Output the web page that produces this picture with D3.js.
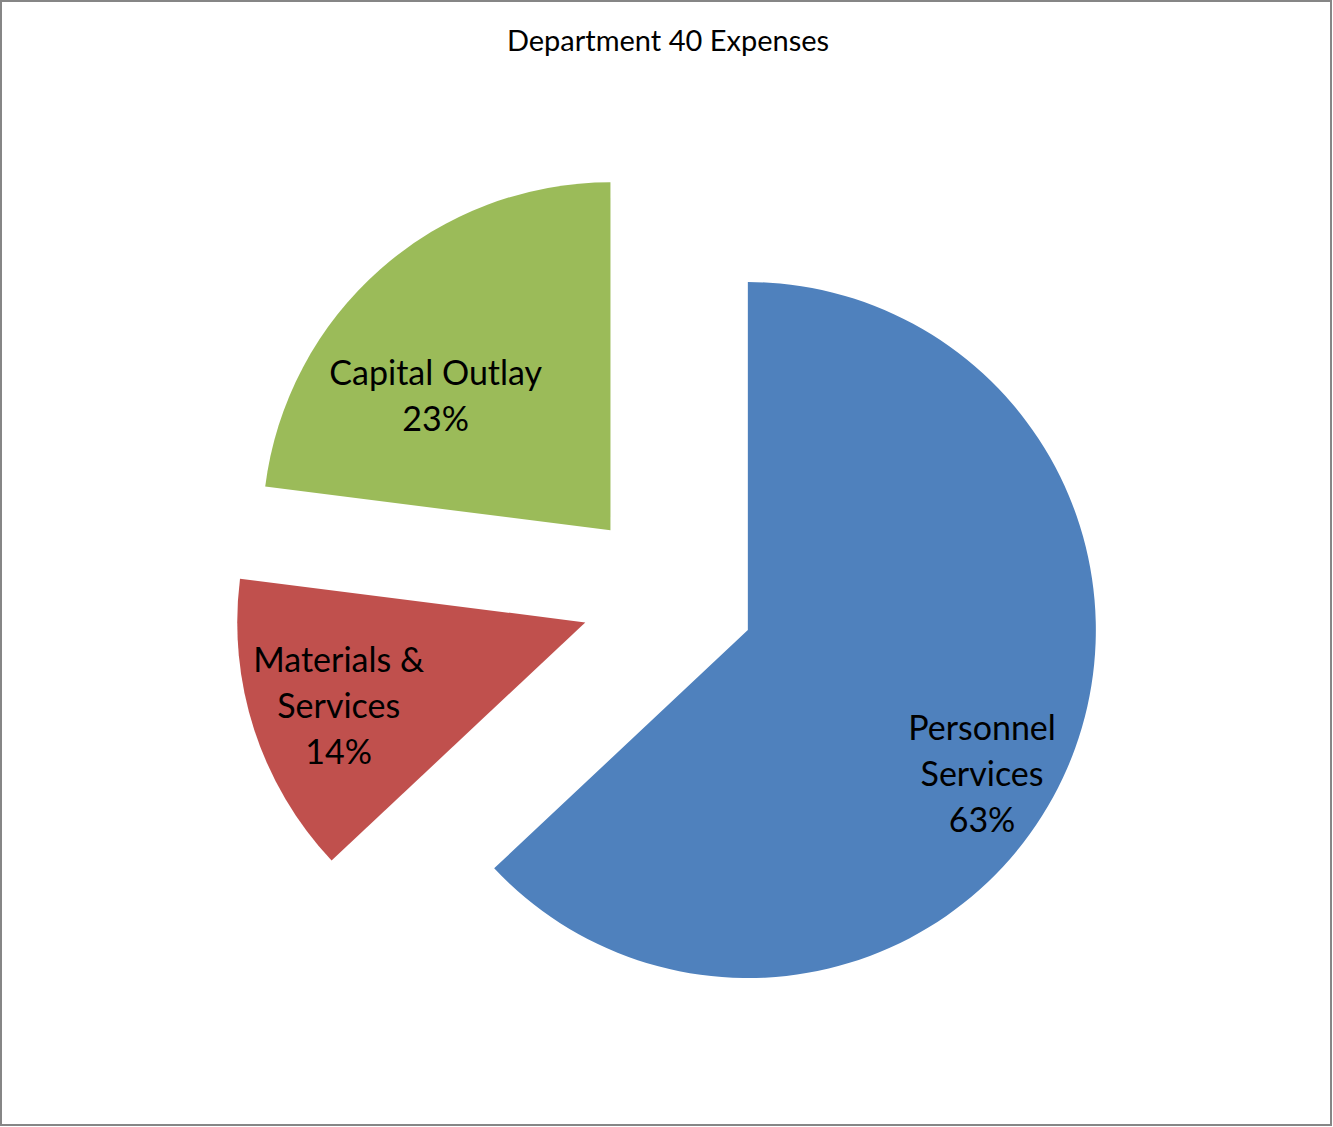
<!DOCTYPE html>
<html>
<head>
<meta charset="utf-8">
<script src="https://cdn.jsdelivr.net/npm/d3@7"></script>
<style>
  html, body { margin: 0; padding: 0; background: #fff; }
  svg { display: block; }
  text { font-family: Lato, "Open Sans", sans-serif; fill: #000; }
</style>
</head>
<body>
<svg id="chart" width="1333" height="1127"></svg>
<script>
const title = "Department 40 Expenses";
const categories = ["Personnel Services", "Materials & Services", "Capital Outlay"];
const labelLines = [["Personnel", "Services"], ["Materials &", "Services"], ["Capital Outlay"]];
const values = [63, 14, 23];
const colors = ["#4F81BD", "#C0504D", "#9BBB59"];

const W = 1333, H = 1127;
const svg = d3.select("#chart");

svg.append("rect")
  .attr("x", 1).attr("y", 1).attr("width", W - 3).attr("height", H - 3)
  .attr("fill", "#fff").attr("stroke", "#868686").attr("stroke-width", 2);

svg.append("text")
  .attr("x", 668).attr("y", 51)
  .attr("text-anchor", "middle")
  .attr("font-size", 29)
  .text(title);

const cx = 668, cy = 595.5, radius = 348, explode = 87;
const pie = d3.pie().sort(null).value(d => d)(values);
const arc = d3.arc().innerRadius(0).outerRadius(radius);

// label placement (fraction of radius, angle tweak in radians)
const labelPlace = [
  { f: 0.793, da: 0.149 },
  { f: 0.75, da: -0.02 },
  { f: 0.63, da: -0.20 }
];

const g = svg.append("g").attr("transform", `translate(${cx},${cy})`);

pie.forEach((p, i) => {
  const mid = (p.startAngle + p.endAngle) / 2;
  const dx = explode * Math.sin(mid), dy = -explode * Math.cos(mid);
  const sg = g.append("g").attr("transform", `translate(${dx},${dy})`);
  sg.append("path").attr("d", arc(p)).attr("fill", colors[i]);

  const la = mid + labelPlace[i].da, lr = radius * labelPlace[i].f;
  const lx = lr * Math.sin(la), ly = -lr * Math.cos(la);
  const lines = labelLines[i].concat([values[i] + "%"]);
  const lh = 46;
  const t = sg.append("text")
    .attr("text-anchor", "middle")
    .attr("font-size", 34);
  lines.forEach((ln, k) => {
    t.append("tspan")
      .attr("x", lx)
      .attr("y", ly + (k - (lines.length - 1) / 2) * lh + 10)
      .text(ln);
  });
});
</script>
</body>
</html>
